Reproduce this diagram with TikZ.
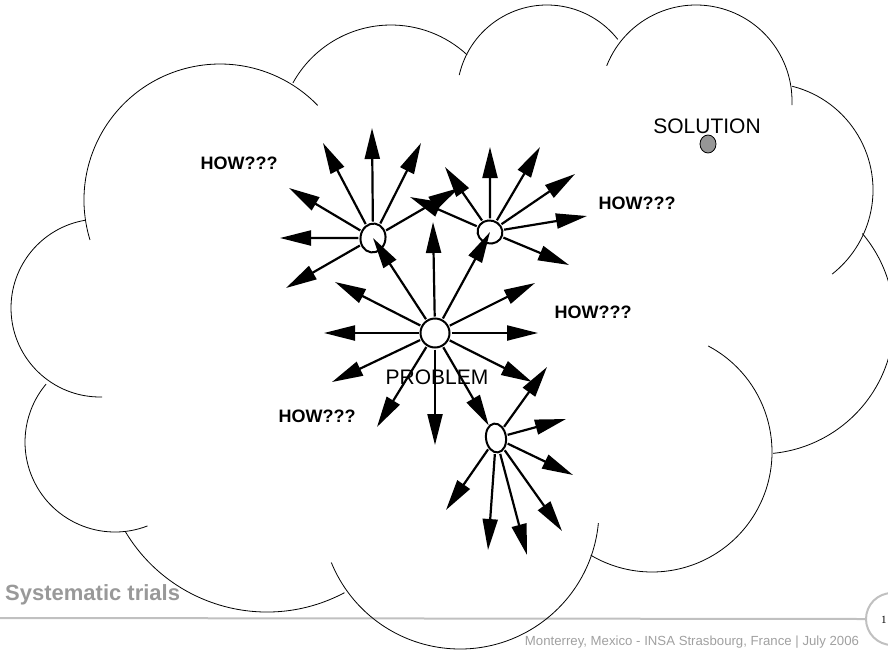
\documentclass[tikz,border=0pt]{standalone}
\usepackage{fontspec}
\setmainfont{Liberation Sans}
\newfontfamily\numfont{Liberation Serif}
\usetikzlibrary{arrows.meta,shapes.geometric}

\definecolor{titlegray}{RGB}{153,153,153}
\definecolor{footline}{RGB}{192,192,192}
\definecolor{foottext}{RGB}{160,160,160}
\definecolor{dotgray}{RGB}{150,150,150}

% one bump of the cloud outline: centre, start angle, end angle, radius
\newcommand{\cloudarc}[4]{\draw[cloudline] (#1) ++(#2:#4) arc[start angle=#2,end angle=#3,radius=#4];}

\begin{document}
\begin{tikzpicture}[x=1pt,y=1pt,yscale=-1,
  cloudline/.style={line width=0.8pt},
  spot/.style={ellipse, draw, line width=2pt, inner sep=0pt},
  arr/.style={line width=2.2pt, -{Triangle[length=31pt,width=15pt]}, shorten <=1pt},
  how/.style={font=\fontsize{18}{20}\selectfont\bfseries},
  tag/.style={font=\fontsize{21}{24}\selectfont}
]
\useasboundingbox (0,0) rectangle (888,653);

% footer
\node[circle, draw=footline, line width=2pt, minimum size=52pt, inner sep=0pt] (pg) at (892,619) {};
\coordinate (footleft) at (0,618);
\draw[footline, line width=2pt] (footleft) -- (pg.west);
\node[anchor=west, inner sep=0pt, font=\numfont\fontsize{11}{13}\selectfont] (pgnum) at (881,620) {1};
\node[anchor=base west, inner sep=0pt, text=titlegray,
      font=\bfseries\fontsize{22}{24}\selectfont] (title) at (5,600) {Systematic trials};
\node[anchor=base, inner sep=0pt, text=foottext,
      font=\fontsize{13.2}{15}\selectfont] (foot) at (692,645)
      {Monterrey, Mexico - INSA Strasbourg, France | July 2006};

% cloud outline
\cloudarc{220,200}{-197.1}{-44.1}{136}
\cloudarc{391,137}{-151.1}{-47.2}{112}
\cloudarc{547,95}{-167.2}{-38.2}{90}
\cloudarc{696,101}{-158.5}{2.4}{96}
\cloudarc{766,190}{-75.8}{51.8}{107}
\cloudarc{760,320}{-40.2}{84.4}{134}
\cloudarc{652,452}{-62.1}{120.7}{120}
\cloudarc{460,510}{5.4}{157.8}{139}
\cloudarc{267,447}{62.0}{149.1}{165}
\cloudarc{115,442}{68.8}{220}{90}
\cloudarc{100,308}{88.7}{260.3}{89}

% labels
\node[tag] (soltext) at (707,126) {SOLUTION};
\node[tag] (probtext) at (437,377) {PROBLEM};
\node[how] (how1) at (239,163) {HOW???};
\node[how] (how2) at (637,203) {HOW???};
\node[how] (how3) at (593,312) {HOW???};
\node[how] (how4) at (317,416) {HOW???};

% states
\node[ellipse, draw, fill=dotgray, line width=0.8pt, minimum width=16pt,
      minimum height=18pt, inner sep=0pt] (sol) at (708,144) {};
\node[spot, minimum width=29pt, minimum height=29pt] (P) at (435,333) {};
\node[spot, minimum width=25pt, minimum height=29pt, rotate=-8] (A) at (373,238) {};
\node[spot, minimum width=25pt, minimum height=23pt, rotate=-15] (B) at (490,232) {};
\node[spot, minimum width=20pt, minimum height=29pt, rotate=8] (C) at (496,438) {};

% trial arrows
\draw[arr] (P) -- (A.center);
\draw[arr] (P) -- (B.center);
\draw[arr] (P) -- (C);
\foreach \s/\n/\x/\y in {
  P/p1/538/333, P/p2/324/333, P/p3/535/283, P/p4/335/282, P/p5/332/382,
  P/p6/377/427, P/p7/435/445, P/p8/532/382, P/p9/433/222,
  A/a1/280/238, A/a2/289/188, A/a3/323/143, A/a4/372/128, A/a5/421/143,
  A/a6/459/188, A/a7/286/288,
  B/b1/445/167, B/b2/410/197, B/b3/490/147, B/b4/540/147, B/b5/575/174,
  B/b6/587/216, B/b7/569/265,
  C/c1/547/367, C/c2/566/419, C/c3/573/475, C/c4/562/531, C/c5/527/555,
  C/c6/488/550, C/c7/446/510}
{
  \coordinate (\n) at (\x,\y);
  \draw[arr] (\s) -- (\n);
}
\end{tikzpicture}
\end{document}
